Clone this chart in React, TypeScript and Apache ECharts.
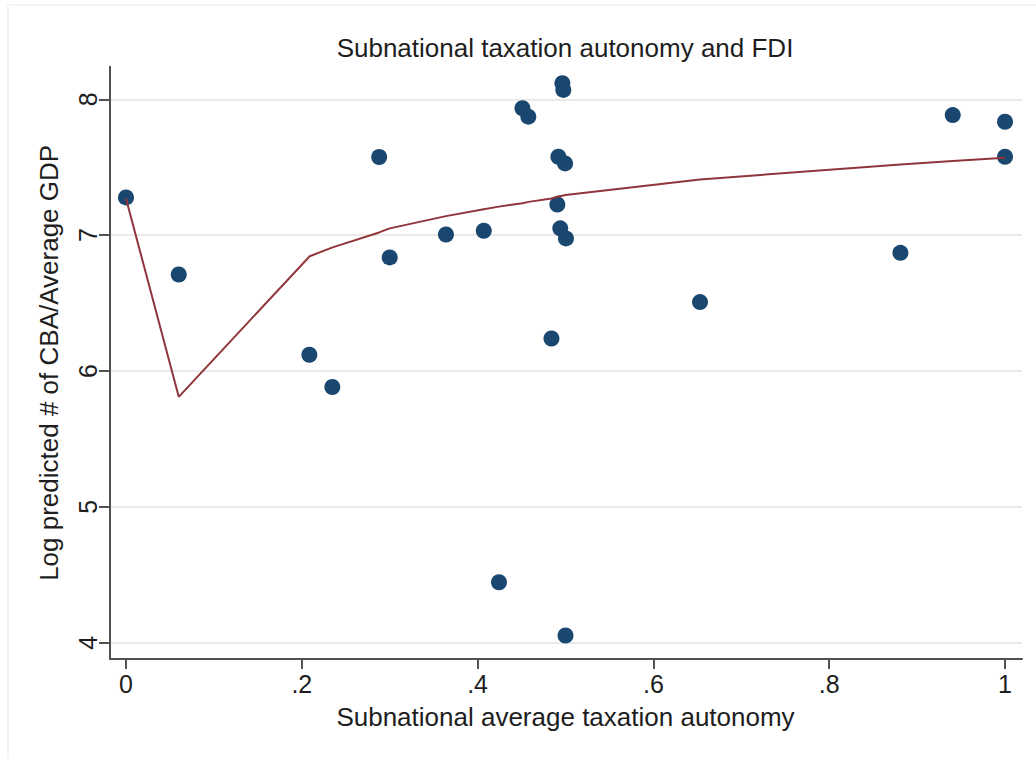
import React, { useEffect, useRef } from "react";
import * as echarts from "echarts";

// Scatter observations (subnational average taxation autonomy, log predicted # of CBA / average GDP)
const pointX = [0, 0.06, 0.2086, 0.2347, 0.288, 0.3, 0.364, 0.407, 0.4243, 0.451, 0.4577, 0.484, 0.4907, 0.4919, 0.494, 0.4964, 0.4975, 0.4995, 0.5005, 0.5, 0.653, 0.881, 0.9405, 1.0, 1.0];
const pointY = [7.278, 6.71, 6.12, 5.882, 7.575, 6.836, 7.005, 7.032, 4.445, 7.934, 7.872, 6.239, 7.226, 7.577, 7.05, 8.118, 8.069, 7.528, 6.976, 4.053, 6.507, 6.87, 7.884, 7.835, 7.577];

// Fitted line (predicted values at each observed x)
const fitX = [0, 0.06, 0.209, 0.235, 0.288, 0.3, 0.364, 0.407, 0.424, 0.451, 0.458, 0.484, 0.491, 0.496, 0.5, 0.653, 0.881, 0.9405, 1.0];
const fitY = [7.27, 5.81, 6.845, 6.91, 7.02, 7.05, 7.14, 7.19, 7.21, 7.235, 7.245, 7.27, 7.285, 7.29, 7.295, 7.41, 7.52, 7.545, 7.57];

const xTicks = [0, 0.2, 0.4, 0.6, 0.8, 1];
const yTicks = [4, 5, 6, 7, 8];

const TITLE = "Subnational taxation autonomy and FDI";
const X_NAME = "Subnational average taxation autonomy";
const Y_NAME = "Log predicted # of CBA/Average GDP";

const FONT = "'Liberation Sans', Arial, Helvetica, sans-serif";
const AXIS_COLOR = "#505050";
const TEXT_COLOR = "#1e1e1e";

function fmtX(v: number): string {
  const s = (Math.round(v * 10) / 10).toString();
  return s.replace(/^0\./, ".");
}

export default function App() {
  const ref = useRef<HTMLDivElement>(null);

  useEffect(() => {
    if (!ref.current) return;
    const chart = echarts.init(ref.current, undefined, { renderer: "svg" });

    const scatterData = pointX.map((x, i) => [x, pointY[i]]);
    const fitData = fitX.map((x, i) => [x, fitY[i]]);

    chart.setOption({
      animation: false,
      backgroundColor: "#ffffff",
      textStyle: { fontFamily: FONT },
      title: {
        text: TITLE,
        left: 565,
        top: 35,
        padding: 0,
        textAlign: "center",
        textStyle: { fontFamily: FONT, fontSize: 26, fontWeight: "normal", color: TEXT_COLOR },
      },
      graphic: [
        { type: "line", shape: { x1: 8, y1: 5, x2: 8, y2: 759 }, style: { stroke: "#efefef", lineWidth: 1.5 } },
        { type: "line", shape: { x1: 8, y1: 5, x2: 1036, y2: 5 }, style: { stroke: "#f2f2f2", lineWidth: 1.5 } },
      ],
      grid: [
        { left: 110, right: 14, top: 99.3, bottom: 116.3 },
        { left: 126, right: 31, top: 66.7, bottom: 100 },
      ],
      xAxis: [
        {
          type: "value",
          gridIndex: 0,
          min: -0.0182,
          max: 1.0193,
          offset: 16.3,
          axisLine: { show: true, onZero: false, lineStyle: { color: AXIS_COLOR, width: 2 } },
          axisTick: { show: false },
          axisLabel: { show: false },
          splitLine: { show: false },
        },
        {
          type: "value",
          gridIndex: 1,
          min: xTicks[0],
          max: xTicks[xTicks.length - 1],
          interval: 0.2,
          axisLine: { show: false, onZero: false },
          axisTick: { show: true, length: 10, lineStyle: { color: AXIS_COLOR, width: 2 } },
          axisLabel: {
            show: true,
            margin: 12,
            fontSize: 25,
            color: TEXT_COLOR,
            fontFamily: FONT,
            formatter: (v: number) => fmtX(v),
          },
          splitLine: { show: false },
          name: X_NAME,
          nameLocation: "middle",
          nameGap: 45,
          nameTextStyle: { fontSize: 26, color: TEXT_COLOR, fontFamily: FONT },
        },
      ],
      yAxis: [
        {
          type: "value",
          gridIndex: 0,
          min: yTicks[0],
          max: yTicks[yTicks.length - 1],
          interval: 1,
          axisLine: { show: false, onZero: false },
          axisTick: { show: true, length: 11, lineStyle: { color: AXIS_COLOR, width: 2 } },
          axisLabel: {
            show: true,
            rotate: 90,
            margin: 10,
            fontSize: 25,
            color: TEXT_COLOR,
            fontFamily: FONT,
          },
          splitLine: { show: true, lineStyle: { color: "#e9e9e9", width: 2 } },
        },
        {
          type: "value",
          gridIndex: 1,
          min: 0,
          max: 1,
          offset: 16,
          axisLine: { show: true, onZero: false, lineStyle: { color: AXIS_COLOR, width: 2 } },
          axisTick: { show: false },
          axisLabel: { show: false },
          splitLine: { show: false },
          name: Y_NAME,
          nameLocation: "middle",
          nameGap: 48,
          nameTextStyle: { fontSize: 26, color: TEXT_COLOR, fontFamily: FONT },
        },
      ],
      series: [
        {
          type: "scatter",
          xAxisIndex: 0,
          yAxisIndex: 0,
          data: scatterData,
          symbol: "circle",
          symbolSize: 16,
          clip: false,
          itemStyle: { color: "#1a476f", opacity: 1 },
          z: 3,
        },
        {
          type: "line",
          xAxisIndex: 0,
          yAxisIndex: 0,
          data: fitData,
          showSymbol: false,
          symbol: "none",
          clip: false,
          lineStyle: { color: "#90353b", width: 2 },
          z: 4,
        },
      ],
    });

    return () => {
      chart.dispose();
    };
  }, []);

  return (
    <div
      ref={ref}
      style={{ position: "fixed", left: 0, top: 0, width: 1036, height: 759, background: "#fff" }}
    />
  );
}
